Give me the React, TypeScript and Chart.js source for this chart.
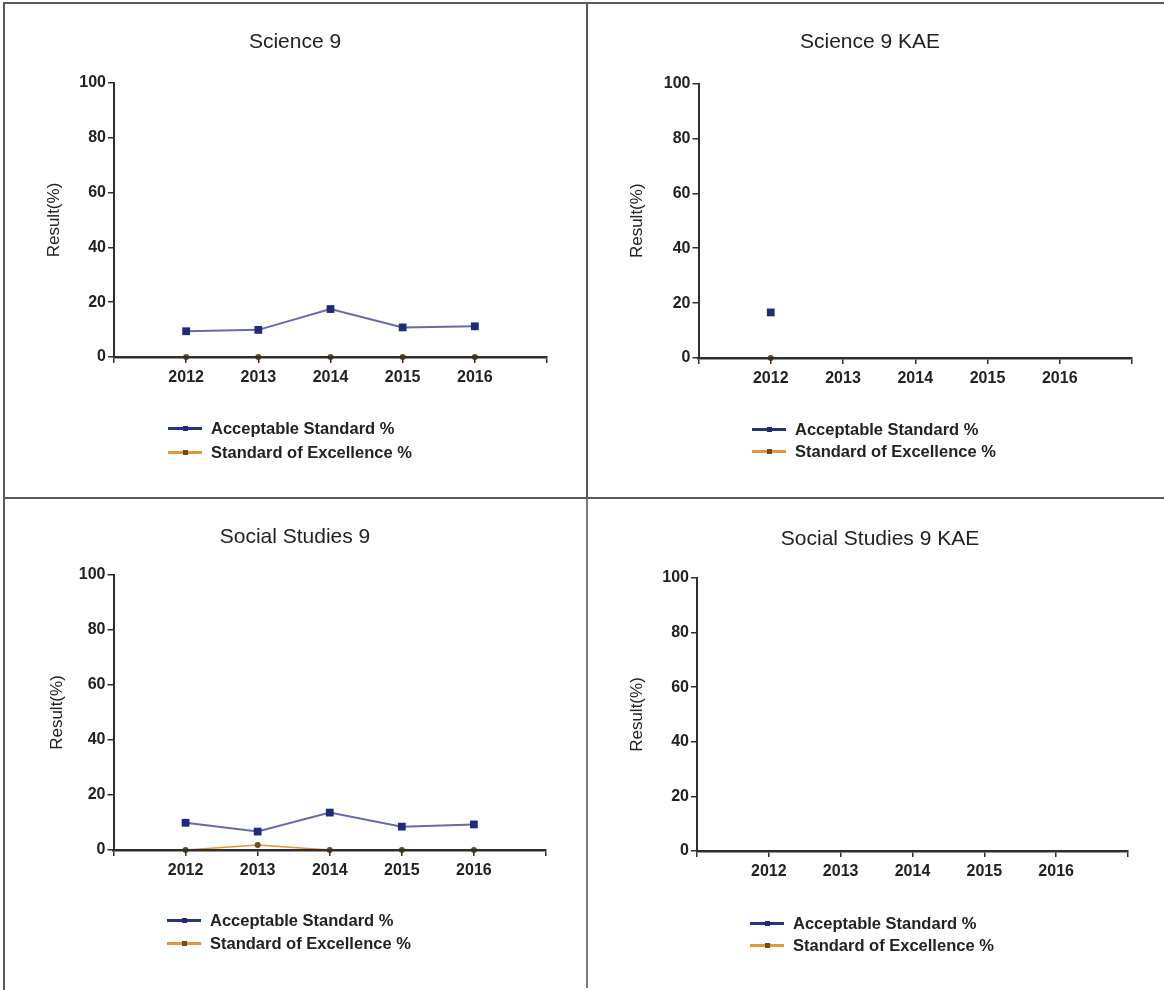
import React, { useEffect, useRef } from 'react';
import { Chart, registerables } from 'chart.js';

Chart.register(...registerables);

// ---------- data ----------
const years = [2012, 2013, 2014, 2015, 2016];
const yTicks = [0, 20, 40, 60, 80, 100];
const seriesNames = ['Acceptable Standard %', 'Standard of Excellence %'];
const panelTitles = ['Science 9', 'Science 9 KAE', 'Social Studies 9', 'Social Studies 9 KAE'];
const yAxisTitle = 'Result(%)';

const science9Acceptable: (number | null)[] = [9.4, 9.9, 17.5, 10.8, 11.2];
const science9Excellence: (number | null)[] = [0, 0, 0, 0, 0];
const science9KaeAcceptable: (number | null)[] = [16.6, null, null, null, null];
const science9KaeExcellence: (number | null)[] = [0, null, null, null, null];
const social9Acceptable: (number | null)[] = [9.9, 6.7, 13.6, 8.5, 9.3];
const social9Excellence: (number | null)[] = [0, 1.8, 0, 0, 0];
const social9KaeAcceptable: (number | null)[] = [null, null, null, null, null];
const social9KaeExcellence: (number | null)[] = [null, null, null, null, null];

// ---------- styles ----------
const FONT = '"Liberation Sans", Arial, Helvetica, sans-serif';
const TEXT = '#222222';
const AXIS = '#2e2e2e';
const ACC_LINE = '#676aa6';
const ACC_POINT = '#1f2a7a';
const ACC_LEGEND = '#27317e';
const EXC_LINE = '#e0963c';
const EXC_POINT = '#6e4a22';

type Geo = {
  left: number; top: number; width: number; height: number;
  axisX: number; axisEnd: number; y100: number; y0: number; yTitleX: number;
  titleX: number; titleY: number;
  legendX: number; legendTextX: number; legendRow1: number; legendRow2: number;
};

const geos: Geo[] = [
  { left: 6, top: 5, width: 580, height: 492, axisX: 114, axisEnd: 547, y100: 83, y0: 357, yTitleX: 54,
    titleX: 295, titleY: 40, legendX: 168, legendTextX: 211, legendRow1: 428, legendRow2: 452 },
  { left: 588, top: 5, width: 576, height: 492, axisX: 698.5, axisEnd: 1132, y100: 83.5, y0: 358, yTitleX: 637,
    titleX: 870, titleY: 40, legendX: 752, legendTextX: 795, legendRow1: 429, legendRow2: 451 },
  { left: 6, top: 500, width: 580, height: 490, axisX: 113.5, axisEnd: 546, y100: 575, y0: 850, yTitleX: 57,
    titleX: 295, titleY: 535, legendX: 167, legendTextX: 210, legendRow1: 920, legendRow2: 943 },
  { left: 588, top: 500, width: 576, height: 490, axisX: 697, axisEnd: 1128, y100: 578, y0: 851, yTitleX: 637,
    titleX: 880, titleY: 537, legendX: 750, legendTextX: 793, legendRow1: 923, legendRow2: 945 },
];

const panelData: [(number | null)[], (number | null)[]][] = [
  [science9Acceptable, science9Excellence],
  [science9KaeAcceptable, science9KaeExcellence],
  [social9Acceptable, social9Excellence],
  [social9KaeAcceptable, social9KaeExcellence],
];

function ChartCanvas({ geo, acceptable, excellence }: { geo: Geo; acceptable: (number | null)[]; excellence: (number | null)[] }) {
  const ref = useRef<HTMLCanvasElement>(null);
  useEffect(() => {
    if (!ref.current) return;
    const titleSize = 17;
    const off = (titleSize * 1.2) / 2;
    const scaleLeft = geo.yTitleX - off;
    const yWidth = geo.axisX - scaleLeft;
    const xHeight = 40;
    const padding = {
      left: scaleLeft - geo.left,
      top: geo.y100 - geo.top,
      right: geo.left + geo.width - geo.axisEnd,
      bottom: geo.top + geo.height - geo.y0 - xHeight,
    };
    const tickFont = { family: FONT, size: 16, weight: 'bold' as const };
    const chart = new Chart(ref.current, {
      type: 'line',
      data: {
        datasets: [
          {
            label: seriesNames[0],
            data: years.map((x, i) => ({ x, y: acceptable[i] })),
            borderColor: ACC_LINE,
            borderWidth: 2,
            pointStyle: 'rect',
            pointRadius: 5.5,
            pointBackgroundColor: ACC_POINT,
            pointBorderColor: ACC_POINT,
            pointBorderWidth: 0,
            clip: false,
            tension: 0,
          },
          {
            label: seriesNames[1],
            data: years.map((x, i) => ({ x, y: excellence[i] })),
            borderColor: EXC_LINE,
            borderWidth: 1.5,
            pointStyle: 'circle',
            pointRadius: 3,
            pointBackgroundColor: EXC_POINT,
            pointBorderColor: EXC_POINT,
            pointBorderWidth: 0,
            clip: false,
            tension: 0,
          },
        ],
      },
      options: {
        animation: false,
        responsive: false,
        events: [],
        layout: { padding },
        plugins: { legend: { display: false }, title: { display: false }, tooltip: { enabled: false } },
        scales: {
          x: {
            type: 'linear',
            min: years[0] - 1,
            max: years[years.length - 1] + 1,
            z: 1,
            afterFit: (s: any) => { s.height = xHeight; },
            grid: { z: 1, drawOnChartArea: false, drawTicks: true, tickLength: 6, color: AXIS, lineWidth: 1.5 },
            border: { z: 2, display: true, color: AXIS, width: 2.5 },
            ticks: {
              z: 1,
              stepSize: 1,
              autoSkip: false,
              maxRotation: 0,
              minRotation: 0,
              padding: 5,
              color: TEXT,
              font: tickFont,
              callback: (v: any) => (years.includes(Number(v)) ? String(v) : ''),
            },
          },
          y: {
            type: 'linear',
            min: yTicks[0],
            max: yTicks[yTicks.length - 1],
            z: 1,
            afterFit: (s: any) => { s.width = yWidth; },
            grid: { z: 1, drawOnChartArea: false, drawTicks: true, tickLength: 6, color: AXIS, lineWidth: 1.5 },
            border: { z: 2, display: true, color: AXIS, width: 2 },
            ticks: { z: 1, stepSize: yTicks[1] - yTicks[0], padding: 2, color: TEXT, font: tickFont },
            title: { display: true, text: yAxisTitle, padding: 0, color: TEXT, font: { family: FONT, size: titleSize } },
          },
        },
      },
    } as any);
    return () => chart.destroy();
  }, []);
  return (
    <canvas
      ref={ref}
      width={geo.width}
      height={geo.height}
      style={{ position: 'absolute', left: geo.left, top: geo.top, width: geo.width, height: geo.height }}
    />
  );
}

function LegendRow({ x, textX, y, color, pointColor, text }: { x: number; textX: number; y: number; color: string; pointColor: string; text: string }) {
  return (
    <>
      <div style={{ position: 'absolute', left: x, top: y - 1.5, width: 34, height: 3, background: color }} />
      <div style={{ position: 'absolute', left: x + 14.5, top: y - 2.5, width: 5, height: 5, background: pointColor }} />
      <div
        style={{
          position: 'absolute', left: textX, top: y, transform: 'translateY(-50%)',
          fontFamily: FONT, fontSize: 16.5, fontWeight: 'bold', lineHeight: 1, color: TEXT, whiteSpace: 'nowrap',
        }}
      >
        {text}
      </div>
    </>
  );
}

export default function App() {
  const line = '#5a5a5a';
  return (
    <div style={{ position: 'absolute', left: 0, top: 0, width: 1164, height: 990, background: '#fff', overflow: 'hidden' }}>
      {/* frame lines */}
      <div style={{ position: 'absolute', left: 4, top: 2, width: 1160, height: 2, background: line }} />
      <div style={{ position: 'absolute', left: 3, top: 2, width: 2, height: 988, background: line }} />
      <div style={{ position: 'absolute', left: 586, top: 2, width: 2, height: 496, background: line }} />
      <div style={{ position: 'absolute', left: 586, top: 498, width: 2, height: 490, background: '#7a7a7a' }} />
      <div style={{ position: 'absolute', left: 4, top: 497, width: 1160, height: 2, background: line }} />

      {geos.map((g, i) => (
        <React.Fragment key={i}>
          <ChartCanvas geo={g} acceptable={panelData[i][0]} excellence={panelData[i][1]} />
          <div
            style={{
              position: 'absolute', left: g.titleX, top: g.titleY, transform: 'translate(-50%, -50%)',
              fontFamily: FONT, fontSize: 21, lineHeight: 1, color: TEXT, whiteSpace: 'nowrap',
            }}
          >
            {panelTitles[i]}
          </div>
          <LegendRow x={g.legendX} textX={g.legendTextX} y={g.legendRow1} color={ACC_LEGEND} pointColor={ACC_POINT} text={seriesNames[0]} />
          <LegendRow x={g.legendX} textX={g.legendTextX} y={g.legendRow2} color={EXC_LINE} pointColor={EXC_POINT} text={seriesNames[1]} />
        </React.Fragment>
      ))}
    </div>
  );
}
